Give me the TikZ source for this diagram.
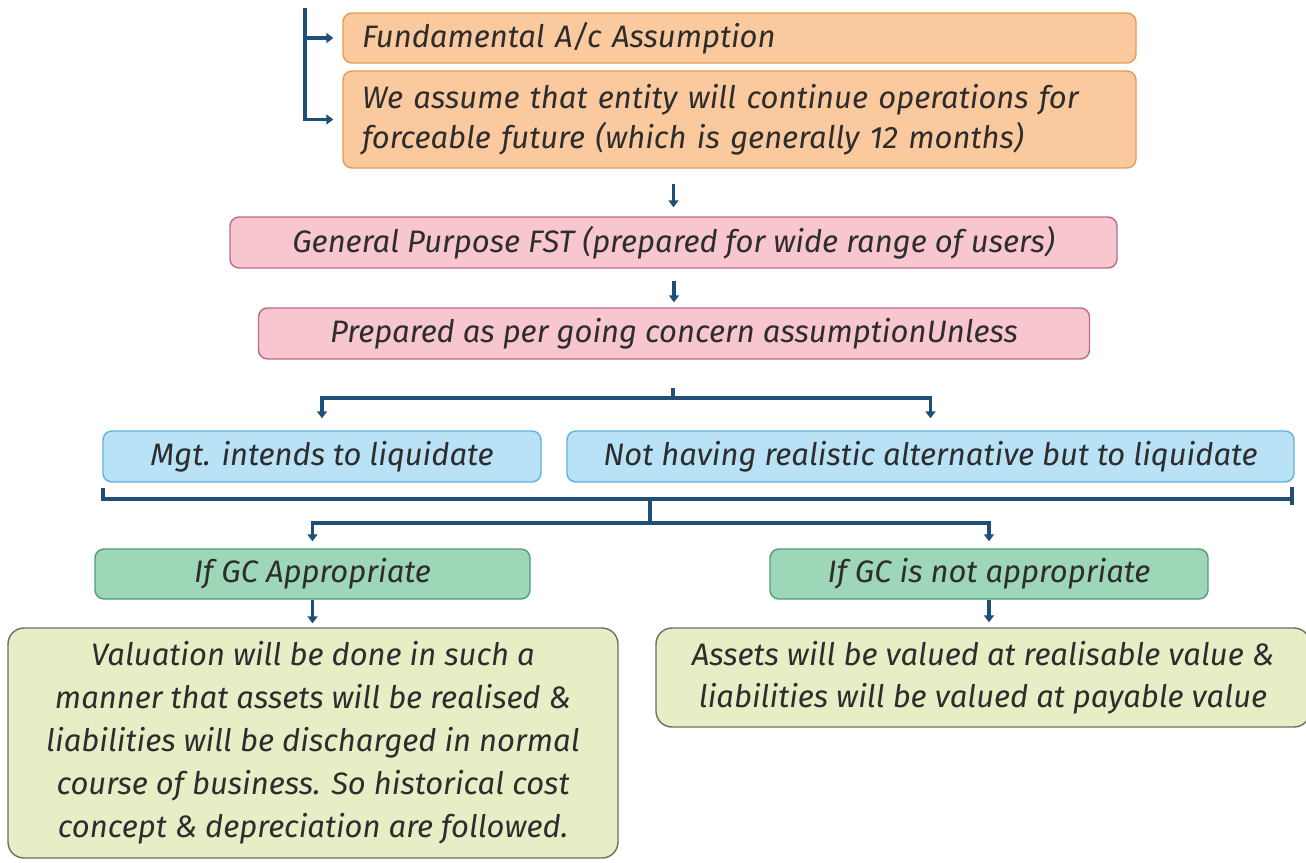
\documentclass[tikz,border=0pt]{standalone}
\usepackage{fontspec}
\setmainfont{Fira Sans}
\usetikzlibrary{arrows.meta}

\definecolor{orfill}{RGB}{251,201,158}
\definecolor{ordraw}{RGB}{230,155,85}
\definecolor{pkfill}{RGB}{247,198,206}
\definecolor{pkdraw}{RGB}{180,110,135}
\definecolor{blfill}{RGB}{186,226,247}
\definecolor{bldraw}{RGB}{95,178,222}
\definecolor{grfill}{RGB}{158,214,184}
\definecolor{grdraw}{RGB}{78,158,122}
\definecolor{olfill}{RGB}{230,238,198}
\definecolor{oldraw}{RGB}{110,110,96}
\definecolor{linkc}{RGB}{31,78,121}
\definecolor{txt}{RGB}{45,45,45}

\tikzset{
  box/.style={rounded corners=9pt, line width=1.4pt, text=txt, inner sep=0pt,
    font=\fontsize{31}{40}\selectfont\itshape, align=center},
  orbox/.style={box, fill=orfill, draw=ordraw},
  pkbox/.style={box, fill=pkfill, draw=pkdraw},
  blbox/.style={box, fill=blfill, draw=bldraw},
  grbox/.style={box, fill=grfill, draw=grdraw},
  olbox/.style={box, fill=olfill, draw=oldraw, rounded corners=16pt},
  link/.style={draw=linkc, line width=3.4pt},
  arrow/.style={link, -{Triangle[length=7pt,width=10pt]}},
}

\begin{document}
\begin{tikzpicture}[x=1pt,y=-1pt]
\useasboundingbox[fill=white] (0,0) rectangle (1306,862);

% assumption boxes
\node[orbox, minimum width=793, minimum height=50, text width=755, align=left]
  (fa) at (739.5,38) {Fundamental A/c Assumption};
\node[orbox, minimum width=793, minimum height=97, text width=755, align=left]
  (wa) at (739.5,119.5) {We assume that entity will continue operations for\\forceable future (which is generally 12 months)};

% financial statements
\node[pkbox, minimum width=887, minimum height=51] (gp) at (673.5,242.5)
  {General Purpose FST (prepared for wide range of users)};
\node[pkbox, minimum width=831, minimum height=51] (pc) at (674,333.5)
  {Prepared as per going concern assumptionUnless};

% exceptions
\node[blbox, minimum width=438, minimum height=51] (mg) at (322,456.5)
  {Mgt. intends to liquidate};
\node[blbox, minimum width=727, minimum height=51] (nh) at (930.5,456.5)
  {Not having realistic alternative but to liquidate};

% going concern outcomes
\node[grbox, minimum width=435, minimum height=50] (ga) at (312.5,574)
  {If GC Appropriate};
\node[grbox, minimum width=438, minimum height=50] (gn) at (989,574)
  {If GC is not appropriate};

\node[olbox, minimum width=610, minimum height=230,
  font=\fontsize{31}{43}\selectfont\itshape] (vl) at (313,743)
  {Valuation will be done in such a\\manner that assets will be realised \&\\liabilities will be discharged in normal\\course of business. So historical cost\\concept \& depreciation are followed.};
\node[olbox, minimum width=654, minimum height=99,
  font=\fontsize{31}{42}\selectfont\itshape] (av) at (983,677.5)
  {Assets will be valued at realisable value \&\\liabilities will be valued at payable value};

% left bracket into the assumption boxes
\coordinate (topbr) at (305,8);
\draw[arrow, shorten >=9pt] (topbr) |- (wa.west);
\draw[arrow, shorten >=9pt] (topbr |- fa.west) -- (fa.west);

% downward flow
\draw[arrow, shorten <=15pt, shorten >=9pt] (gp.north |- wa.south) -- (gp.north);
\draw[arrow, shorten <=12pt, shorten >=5pt] (pc.north |- gp.south) -- (pc.north);

% split into the two exceptions
\coordinate (tk) at (673,388);
\coordinate (sp1) at (673,398);
\draw[link] (tk) -- (sp1);
\draw[arrow, shorten >=12pt] (sp1) -| (mg.north);
\draw[arrow, shorten >=12pt] (sp1) -| (nh.north);

% bracket under the exceptions
\coordinate (blt) at (103,488);
\coordinate (brl) at (103,499);
\coordinate (brr) at (1292,499);
\coordinate (brt) at (1292,487);
\coordinate (brb) at (1292,505);
\draw[link] (blt) -- (brl) -- (brr);
\draw[link] (brt) -- (brb);

% split into the two outcomes
\coordinate (jm) at (650,499);
\coordinate (j2) at (650,523);
\draw[link] (jm) -- (j2);
\draw[arrow, shorten >=7pt] (j2) -| (ga.north);
\draw[arrow, shorten >=7pt] (j2) -| (gn.north);

% outcomes to their consequences
\draw[arrow, shorten >=4pt] (ga.south) -- (ga.south |- vl.north);
\draw[arrow, shorten >=5pt] (gn.south) -- (gn.south |- av.north);
\end{tikzpicture}
\end{document}
